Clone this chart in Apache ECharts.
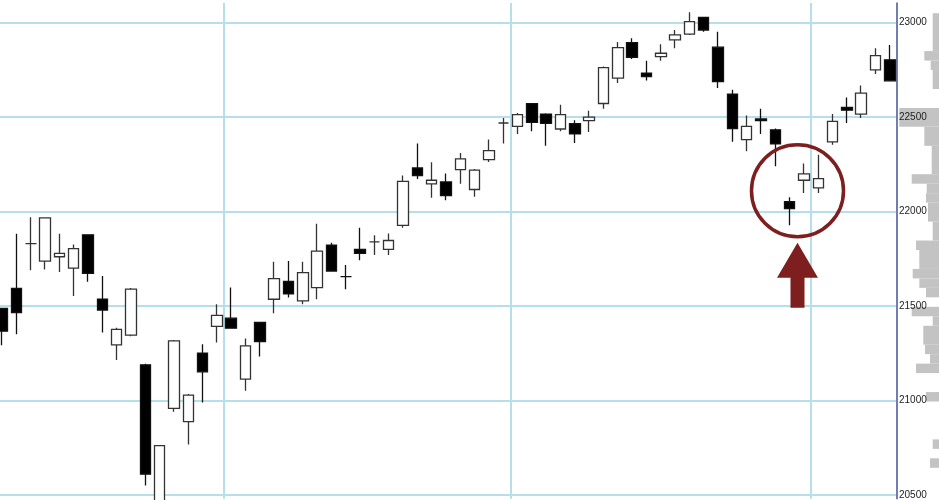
<!DOCTYPE html>
<html><head><meta charset="utf-8">
<script src="https://cdn.jsdelivr.net/npm/echarts@6/dist/echarts.min.js"></script>
<style>html,body{margin:0;padding:0;background:#fff;overflow:hidden}#c{width:944px;height:500px;margin-left:-5px}</style>
</head><body><div id="c"></div>
<script>
// ---- data ----
const categories = ['1','2','3','4','5','6','7','8','9','10','11','12','13','14','15','16','17','18','19','20','21','22','23','24','25','26','27','28','29','30','31','32','33','34','35','36','37','38','39','40','41','42','43','44','45','46','47','48','49','50','51','52','53','54','55','56','57','58','59','60','61','62','63'];
const opens  = [21487,21594,21830,21738,21761,21701,21877,21537,21295,21346,21189,20430,20959,20888,21251,21392,21436,21113,21413,21536,21631,21527,21598,21823,21656,21800,21840,21800,21927,22231,22147,22157,22222,22117,22275,22469,22451,22571,22516,22437,22465,22481,22572,22706,22894,22733,22820,22909,22939,23028,22870,22622,22381,22490,22433,22052,22166,22126,22369,22551,22516,22750,22803];
const closes = [21367,21466,21830,21967,21779,21804,21673,21479,21377,21590,20610,20761,21316,21029,21152,21451,21383,21289,21312,21645,21564,21677,21791,21685,21656,21779,21840,21847,22160,22191,22166,22085,22279,22219,22323,22469,22513,22472,22467,22513,22411,22500,22762,22868,22817,22715,22838,22935,23005,22961,22688,22439,22451,22482,22358,22016,22200,22175,22477,22537,22627,22826,22692];
const lows   = [21293,21351,21689,21694,21680,21553,21629,21360,21215,21340,20550,20380,20941,20767,20990,21307,21380,21052,21233,21462,21545,21509,21536,21683,21589,21743,21770,21770,21914,22173,22073,22060,22148,22078,22263,22360,22411,22425,22349,22425,22363,22421,22544,22680,22807,22694,22798,22865,22935,22952,22654,22369,22319,22411,22240,21928,22099,22099,22354,22469,22495,22728,22690];
const highs  = [21490,21883,21970,21970,21883,21826,21880,21659,21385,21595,21195,20765,21320,21035,21298,21509,21598,21328,21415,21735,21738,21735,21936,21835,21717,21914,21875,21884,22191,22360,22261,22201,22310,22225,22381,22495,22522,22575,22520,22565,22483,22534,22768,22897,22918,22798,22886,22961,23055,23030,22952,22645,22509,22544,22440,22076,22254,22301,22516,22604,22667,22865,22882];
const monthStartIdx = [16, 36, 57];
const yTicks = [20500, 21000, 21500, 22000, 22500, 23000];
// price-volume profile (bin low, bin high, relative volume)
const profileLow  = [22850,22800,22750,22650,22450,22350,22200,22150,22100,22050,21950,21850,21800,21700,21650,21600,21550,21450,21400,21300,21250,21200,21150,21000,20750,20650];
const profileHigh = [23050,22850,22800,22750,22550,22450,22350,22200,22150,22100,22050,21950,21850,21800,21700,21650,21600,21500,21450,21400,21300,21250,21200,21050,20800,20700];
const profileVol  = [6.3,14.7,8.3,6.3,39.7,14.7,7.3,27.3,12.3,13,11,6.3,23,19.7,26.3,19.7,13,27.3,6.3,15.7,14,9,23,13,6.3,9];
// annotation anchors (category index, price)
const circleAnchor = [55.55, 22110];
const arrowTip = [55.55, 21835];

// ---- chart ----
const GRID = '#b5dfe9';
const RED = '#7d1f1f';
const candleData = opens.map((o, i) => [o, closes[i], lows[i], highs[i]]);
const profileData = profileLow.map((l, i) => [l, profileHigh[i], profileVol[i]]);

const chart = echarts.init(document.getElementById('c'), null, {renderer: 'canvas'});
chart.setOption({
  animation: false,
  backgroundColor: '#fff',
  grid: [
    {left: 0, right: 42, top: 3, bottom: 0, containLabel: false},
    {left: 902, right: 0, top: 3, bottom: 0, containLabel: false}
  ],
  xAxis: [
    {
      type: 'category', gridIndex: 0, data: categories, boundaryGap: true,
      axisLine: {show: false}, axisTick: {show: false}, axisLabel: {show: false},
      splitLine: {show: true, interval: (idx) => monthStartIdx.indexOf(idx) >= 0,
                  lineStyle: {color: GRID, width: 2}}
    },
    {type: 'value', gridIndex: 1, inverse: true, min: 0, max: 42, show: false}
  ],
  yAxis: [
    {
      type: 'value', gridIndex: 0, position: 'right', min: 20480, max: 23104,
      axisLine: {show: true, lineStyle: {color: '#5c5c9c', width: 1.5}},
      axisTick: {show: false, customValues: yTicks},
      axisLabel: {customValues: yTicks, margin: 2, fontSize: 10, color: '#222',
                  fontFamily: 'Liberation Sans, Arial, sans-serif',
                  formatter: (v) => String(v)},
      splitLine: {show: true, lineStyle: {color: GRID, width: 2}}
    },
    {type: 'value', gridIndex: 1, min: 20480, max: 23104, show: false}
  ],
  series: [
    {
      type: 'candlestick', xAxisIndex: 0, yAxisIndex: 0, data: candleData,
      barWidth: 11,
      itemStyle: {color: '#ffffff', color0: '#000000', borderColor: '#333333', borderColor0: '#111111', borderWidth: 1.3}
    },
    {
      type: 'custom', xAxisIndex: 1, yAxisIndex: 1, z: -1, data: profileData,
      encode: {x: 2, y: [0, 1]},
      renderItem: function (params, api) {
        const lo = api.value(0), hi = api.value(1), v = api.value(2);
        const p1 = api.coord([v, hi]);
        const p2 = api.coord([0, lo]);
        return {type: 'rect', shape: {x: p1[0], y: p1[1], width: p2[0] - p1[0], height: p2[1] - p1[1]},
                style: {fill: '#c3c3c3'}};
      }
    }
  ]
});

function px(idx, val) {
  const i0 = Math.floor(idx), f = idx - i0;
  const a = chart.convertToPixel({xAxisIndex: 0, yAxisIndex: 0}, [i0, val]);
  const b = chart.convertToPixel({xAxisIndex: 0, yAxisIndex: 0}, [i0 + 1, val]);
  return [a[0] + (b[0] - a[0]) * f, a[1]];
}
const c = px(circleAnchor[0], circleAnchor[1]);
const t = px(arrowTip[0], arrowTip[1]);
chart.setOption({
  graphic: [
    {type: 'circle', z: 100, shape: {cx: c[0], cy: c[1], r: 46}, style: {fill: 'none', stroke: RED, lineWidth: 3.5}},
    {type: 'polygon', z: 100, shape: {points: [
      [t[0], t[1]], [t[0] + 20.5, t[1] + 35], [t[0] + 7, t[1] + 35], [t[0] + 7, t[1] + 65],
      [t[0] - 7, t[1] + 65], [t[0] - 7, t[1] + 35], [t[0] - 20.5, t[1] + 35]
    ]}, style: {fill: RED}}
  ]
});
</script></body></html>
